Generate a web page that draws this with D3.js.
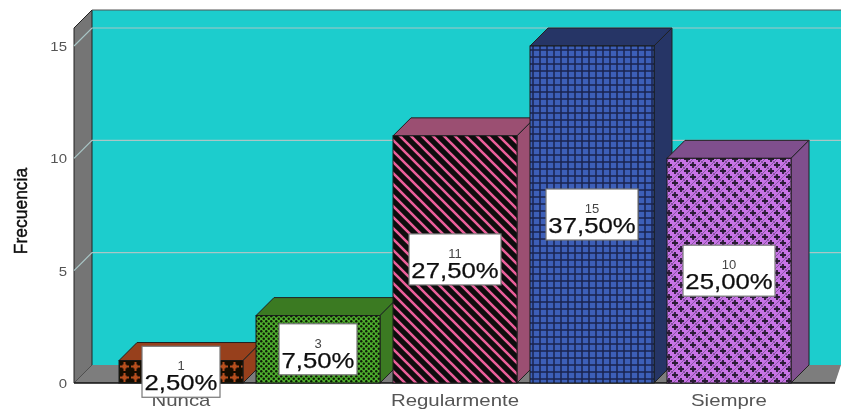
<!DOCTYPE html>
<html><head><meta charset="utf-8">
<script src="https://cdn.jsdelivr.net/npm/d3@7/dist/d3.min.js"></script>
<style>html,body{margin:0;padding:0;background:#fff}svg{display:block}text{font-family:"Liberation Sans",Arial,sans-serif}</style>
</head><body><div id="c"></div>
<script>
const categories = ["Nunca","Casi nunca","Regularmente","Casi siempre","Siempre"];
const shownLabels = ["Nunca","","Regularmente","","Siempre"];
const counts = [1,3,11,15,10];
const percents = ["2,50%","7,50%","27,50%","37,50%","25,00%"];
const yTicks = [0,5,10,15];
const sideColors = ["#97401a","#3a7a22","#9b4f72","#253566","#7f4f8d"];

const W=841,H=410,depth=18,x0=74,xEnd=835,base=383;
const svg=d3.select("#c").append("svg").attr("width",W).attr("height",H);
const defs=svg.append("defs");
defs.append("filter").attr("id","soft").append("feGaussianBlur").attr("stdDeviation",0.4);
const root=svg.append("g").attr("filter","url(#soft)");

const y=d3.scaleLinear().domain([0,15]).range([base,46]);
const x=d3.scaleBand().domain(categories).range([x0+45,xEnd-44]).paddingInner(0.0949).paddingOuter(0);
const wallTop=10;

// patterns
function pat(id,size,bg,draw,ox=0,oy=0){
  const p=defs.append("pattern").attr("id",id).attr("patternUnits","userSpaceOnUse").attr("width",size).attr("height",size)
    .attr("patternTransform",`translate(${ox},${oy})`);
  p.append("rect").attr("width",size).attr("height",size).attr("fill",bg);
  draw(p);
}
pat("p0",11,"#140a05",p=>{p.append("path").attr("d","M5.5 1V10M1 5.5H10").attr("stroke","#b84f1e").attr("stroke-width",2);
  p.append("rect").attr("x",3.5).attr("y",3.5).attr("width",4).attr("height",4).attr("fill","#b84f1e");},119,361);
pat("p1",5,"#4fae2e",p=>{p.append("circle").attr("cx",1.25).attr("cy",1.25).attr("r",1.2).attr("fill","#0c1a06");p.append("circle").attr("cx",3.75).attr("cy",3.75).attr("r",1.2).attr("fill","#0c1a06");});
pat("p2",11,"#0c0c0c",p=>{p.append("path").attr("d","M-3 -3L14 14M-3 8L3 14M8 -3L14 3").attr("stroke","#ea5f9a").attr("stroke-width",2.6);});
pat("p3",7,"#3d5fb8",p=>{p.append("path").attr("d","M0 1H7M1 0V7").attr("stroke","#18244e").attr("stroke-width",1.5);});
pat("p4",12,"#c873e6",p=>{p.append("path").attr("d","M0 0L12 12M12 0L0 12").attr("stroke","#8a55a6").attr("stroke-width",1);
  p.append("path").attr("d","M3 0V6M0 3H6M9 6V12M6 9H12").attr("stroke","#2a1a35").attr("stroke-width",1.8);});

// walls and floor
const ln="#222";
root.append("polygon").attr("points",[[x0+depth,wallTop],[W,wallTop],[W,base-depth],[x0+depth,base-depth]].join(" ")).attr("fill","#1bcdcd");
root.append("polygon").attr("points",[[x0,y(15)-depth],[x0+depth,wallTop],[x0+depth,base-depth],[x0,base]].join(" ")).attr("fill","#757575").attr("stroke",ln);
root.append("polygon").attr("points",[[x0,base],[x0+depth,base-depth],[W,base-depth],[xEnd,base]].join(" ")).attr("fill","#7d7d7d");
root.append("line").attr("x1",x0+depth).attr("x2",W).attr("y1",wallTop).attr("y2",wallTop).attr("stroke","#555");
root.append("line").attr("x1",x0).attr("x2",xEnd).attr("y1",base).attr("y2",base).attr("stroke","#111").attr("stroke-width",1.4);
// gridlines
const grid=yTicks.filter(d=>d>0);
root.selectAll(".g").data(grid).join("path").attr("fill","none").attr("stroke","#a9c6c6").attr("stroke-width",1.2)
  .attr("d",d=>`M${x0} ${y(d)}L${x0+depth} ${y(d)-depth}H${W}`);

// bars
const rows=categories.map((c,i)=>({c,i,v:counts[i]}));
const bars=root.selectAll(".bar").data(rows).join("g");
bars.append("polygon").attr("points",d=>{const a=x(d.c),b=a+x.bandwidth(),t=y(d.v);return [[a,t],[a+depth,t-depth],[b+depth,t-depth],[b,t]].join(" ")})
  .attr("fill",d=>sideColors[d.i]).attr("stroke",ln);
bars.append("polygon").attr("points",d=>{const b=x(d.c)+x.bandwidth(),t=y(d.v);return [[b,t],[b+depth,t-depth],[b+depth,base-depth],[b,base]].join(" ")})
  .attr("fill",d=>sideColors[d.i]).attr("stroke",ln);
bars.append("rect").attr("x",d=>x(d.c)).attr("width",x.bandwidth()).attr("y",d=>y(d.v)).attr("height",d=>base-y(d.v))
  .attr("fill",d=>`url(#p${d.i})`).attr("stroke","#1a1a1a");

function stretch(sel,k){sel.each(function(){const l=this.getComputedTextLength();if(l>0)d3.select(this).attr("textLength",l*k).attr("lengthAdjust","spacingAndGlyphs");});}

// axis labels
const tickG=root.append("g");
tickG.selectAll("text").data(yTicks).join("text").attr("x",67).attr("y",d=>y(d)+5).attr("text-anchor","end")
  .attr("font-size",13).attr("fill","#555").text(d=>d).call(stretch,1.15);
tickG.selectAll(".cat").data(categories).join("text").attr("class","cat")
  .attr("x",c=>x(c)+x.bandwidth()/2).attr("y",406).attr("text-anchor","middle").attr("font-size",17).attr("fill","#555")
  .text((c,i)=>shownLabels[i]).call(stretch,1.2);
root.append("text").attr("transform","translate(27,211) rotate(-90)").attr("text-anchor","middle")
  .attr("font-size",18).attr("fill","#111").attr("stroke","#111").attr("stroke-width",0.4).text("Frecuencia").call(stretch,0.97);

// value labels
const lab=root.selectAll(".lab").data(rows).join("g")
  .attr("transform",d=>`translate(${x(d.c)+x.bandwidth()/2},${(y(d.v)+base)/2})`);
lab.append("rect").attr("y",-25.5).attr("height",51).attr("x",d=>-(percents[d.i].length>5?46:39)).attr("width",d=>percents[d.i].length>5?92:78)
  .attr("fill","#fff").attr("stroke","#777").attr("stroke-width",1.2);
lab.append("text").attr("text-anchor","middle").attr("y",-1.5).attr("font-size",13).attr("fill","#444").text(d=>d.v);
lab.append("text").attr("text-anchor","middle").attr("y",18.5).attr("font-size",22).attr("fill","#111").attr("stroke","#111").attr("stroke-width",0.25).text(d=>percents[d.i]).call(stretch,1.17);
</script></body></html>
